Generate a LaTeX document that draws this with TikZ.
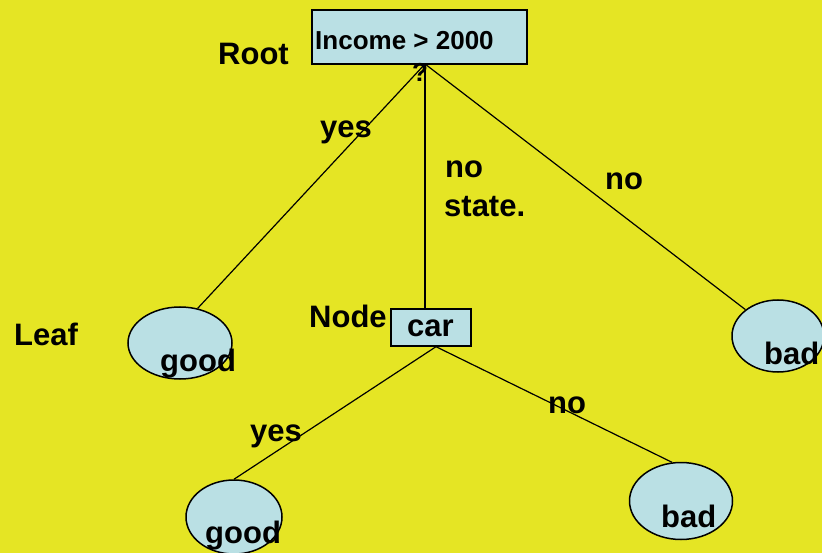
\documentclass[tikz,border=0pt]{standalone}
\usepackage{fontspec}
\setmainfont{Liberation Sans}
\usetikzlibrary{shapes.geometric}
\definecolor{bgyellow}{RGB}{229,229,36}
\definecolor{boxblue}{RGB}{186,224,228}
\begin{document}
\begin{tikzpicture}[x=1pt,y=-1pt,
  lbl/.style={anchor=base west,inner sep=0pt,font=\fontsize{31}{36}\selectfont\bfseries},
  smalllbl/.style={anchor=base west,inner sep=0pt,font=\fontsize{26}{30}\selectfont\bfseries},
  testbox/.style={draw=black,line width=1.4pt,fill=boxblue,inner sep=0pt},
  leaf/.style={draw=black,line width=1.5pt,fill=boxblue,ellipse,inner sep=0pt},
  edge/.style={draw=black,line width=1.2pt}]
  % background
  \fill[bgyellow] (0,0) rectangle (822,553);
  \useasboundingbox (0,0) rectangle (822,553);

  % test nodes
  \node[testbox,minimum width=215pt,minimum height=54pt] (root) at (419.5,37) {};
  \node[smalllbl] (rootlbl) at (315,50) {Income > 2000};
  \node[smalllbl] (qmark) at (412,82) {?};
  \coordinate (apex) at (425,64);
  \node[testbox,minimum width=80pt,minimum height=37pt] (car) at (431,327.5) {};
  \node[lbl] (carlbl) at (407,337) {car};

  % leaves
  \node[leaf,minimum width=104pt,minimum height=72pt] (good1) at (180,343) {};
  \node[leaf,minimum width=92pt,minimum height=72pt] (bad1) at (778,336) {};
  \node[leaf,minimum width=96pt,minimum height=74pt] (good2) at (234,517) {};
  \node[leaf,minimum width=103pt,minimum height=77pt] (bad2) at (681,501) {};

  % connectors
  \draw[edge] (apex) -- (good1.63);
  \draw[edge] (apex) -- (car.north -| apex);
  \draw[edge] (apex) -- (bad1.141);
  \draw[edge] ([xshift=5pt]car.south) -- (good2.north);
  \draw[edge] ([xshift=5pt]car.south) -- (bad2.103);

  % leaf texts
  \node[lbl] (good1lbl) at (160,371) {good};
  \node[lbl] (bad1lbl) at (764,364) {bad};
  \node[lbl] (good2lbl) at (205,543) {good};
  \node[lbl] (bad2lbl) at (661,527) {bad};

  % annotations and branch labels
  \node[lbl] (rootnote) at (218,65) {Root};
  \node[lbl] (leafnote) at (14,345) {Leaf};
  \node[lbl] (nodenote) at (309,327) {Node};
  \node[lbl] (yes1) at (320,138) {yes};
  \node[lbl] (no1) at (445,178) {no};
  \node[lbl] (state) at (444,217) {state.};
  \node[lbl] (no2) at (605,190) {no};
  \node[lbl] (yes2) at (250,441) {yes};
  \node[lbl] (no3) at (548,413) {no};
\end{tikzpicture}
\end{document}
